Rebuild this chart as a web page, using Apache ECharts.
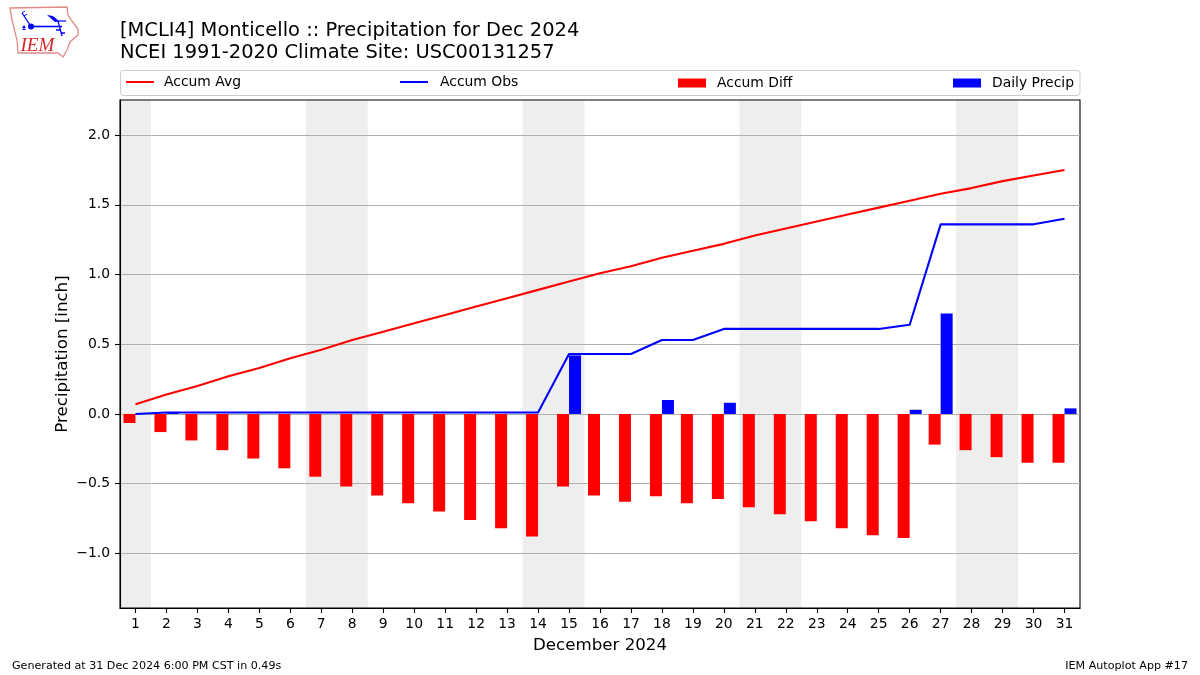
<!DOCTYPE html>
<html><head><meta charset="utf-8">
<style>html,body{margin:0;padding:0;background:#fff}#c{width:1200px;height:675px}</style>
<script src="https://cdn.jsdelivr.net/npm/echarts@6/dist/echarts.min.js"></script>
</head><body><div id="c"></div>
<script>
const days = ['1','2','3','4','5','6','7','8','9','10','11','12','13','14','15','16','17','18','19','20','21','22','23','24','25','26','27','28','29','30','31'];
const accumAvg = [0.07,0.14,0.20,0.27,0.33,0.40,0.46,0.53,0.59,0.65,0.71,0.77,0.83,0.89,0.95,1.01,1.06,1.12,1.17,1.22,1.28,1.33,1.38,1.43,1.48,1.53,1.58,1.62,1.67,1.71,1.75];
const accumObs = [0.00,0.01,0.01,0.01,0.01,0.01,0.01,0.01,0.01,0.01,0.01,0.01,0.01,0.01,0.43,0.43,0.43,0.53,0.53,0.61,0.61,0.61,0.61,0.61,0.61,0.64,1.36,1.36,1.36,1.36,1.40];
const accumDiff = [-0.065,-0.13,-0.19,-0.26,-0.32,-0.39,-0.45,-0.52,-0.585,-0.64,-0.70,-0.76,-0.82,-0.88,-0.52,-0.585,-0.63,-0.59,-0.64,-0.61,-0.67,-0.72,-0.77,-0.82,-0.87,-0.89,-0.22,-0.26,-0.31,-0.35,-0.35];
const dailyPrecip = [0,0.01,0,0,0,0,0,0,0,0,0,0,0,0,0.42,0,0,0.10,0,0.08,0,0,0,0,0,0.03,0.72,0,0,0,0.04];
const weekendSpans = [[1,1],[7,8],[14,15],[21,22],[28,29]];
const yTicks = [-1.0,-0.5,0.0,0.5,1.0,1.5,2.0];
const yMin = -1.392, yMax = 2.252;
const FONT = 'DejaVu Sans';
const legendNames = ['Accum Avg','Accum Obs','Accum Diff','Daily Precip'];
const legendLeft = [126,400,678,953];

const chart = echarts.init(document.getElementById('c'),null,{renderer:'canvas'});
const red='#ff0000', blue='#0000ff';
const poly=(pts,style)=>({type:'polyline',shape:{points:pts},style:Object.assign({fill:null},style),silent:true,z:2});
const tri=(pts)=>({type:'polygon',shape:{points:pts},style:{fill:blue},silent:true,z:2});
chart.setOption({
  animation:false,
  backgroundColor:'#fff',
  textStyle:{fontFamily:FONT},
  grid:{left:120,right:120,top:100,bottom:67,show:true,z:1,borderColor:'#000',borderWidth:1.1,backgroundColor:'transparent',containLabel:false},
  title:[
    {text:'[MCLI4] Monticello :: Precipitation for Dec 2024\nNCEI 1991-2020 Climate Site: USC00131257',left:120,top:19.5,padding:0,
     textStyle:{fontFamily:FONT,fontSize:19.45,fontWeight:'normal',color:'#000',lineHeight:22.5}},
    {text:'Generated at 31 Dec 2024 6:00 PM CST in 0.49s',left:12,top:661,padding:0,textStyle:{fontFamily:FONT,fontSize:11.12,fontWeight:'normal',color:'#000'}},
    {text:'IEM Autoplot App #17',right:12,top:661,padding:0,textStyle:{fontFamily:FONT,fontSize:11.12,fontWeight:'normal',color:'#000'}}
  ],
  legend:legendNames.map((n,i)=>({data:[n],left:legendLeft[i],top:i<2?75:76,padding:0,itemWidth:28,itemHeight:i<2?2:9,itemGap:0,icon:'rect',
    textStyle:{fontFamily:FONT,fontSize:13.9,color:'#000',padding:[0,0,0,[5,7,6,6][i]]},selectedMode:false,z:5})),
  xAxis:{type:'category',data:days,boundaryGap:true,name:'December 2024',nameLocation:'middle',nameGap:29,
    nameTextStyle:{fontFamily:FONT,fontSize:16.67,color:'#000'},
    axisLine:{show:true,onZero:false,lineStyle:{color:'#000',width:1.1}},
    axisTick:{show:true,interval:0,alignWithLabel:true,length:5,lineStyle:{color:'#000',width:1.1}},
    axisLabel:{interval:0,color:'#000',fontFamily:FONT,fontSize:13.9,margin:9.5},splitLine:{show:false},z:1},
  yAxis:{type:'value',min:yMin,max:yMax,
    name:'Precipitation [inch]',nameLocation:'middle',nameGap:48.5,nameRotate:90,nameMoveOverlap:false,
    nameTextStyle:{fontFamily:FONT,fontSize:16.67,color:'#000'},
    axisLine:{show:true,lineStyle:{color:'#000',width:1.1}},
    axisTick:{show:true,length:5,customValues:yTicks,lineStyle:{color:'#000',width:1.1}},
    axisLabel:{color:'#000',fontFamily:FONT,fontSize:13.9,margin:10,customValues:yTicks,formatter:v=>v.toFixed(1).replace('-','\u2212')},
    splitLine:{show:true,lineStyle:{color:'#b0b0b0',width:1.1}},z:1},
  series:[
    {type:'custom',name:'weekend',silent:true,z:0.5,clip:true,data:weekendSpans,coordinateSystem:'cartesian2d',encode:{x:0},
     renderItem:(p,api)=>{const s=weekendSpans[p.dataIndex];const w=api.size([1,0])[0];
       const a=api.coord([s[0]-1,yMax]);const b=api.coord([s[1]-1,yMin]);
       return {type:'rect',shape:{x:a[0]-w/2,y:a[1],width:b[0]-a[0]+w,height:b[1]-a[1]},style:{fill:'#eeeeee'}};}},
    {type:'bar',name:'Accum Diff',data:accumDiff,barWidth:12,barGap:0,itemStyle:{color:red},z:2},
    {type:'bar',name:'Daily Precip',data:dailyPrecip,barWidth:12,barGap:0,itemStyle:{color:blue},z:2},
    {type:'line',name:'Accum Avg',data:accumAvg,symbol:'none',lineStyle:{color:red,width:2.08},itemStyle:{color:red},z:3},
    {type:'line',name:'Accum Obs',data:accumObs,symbol:'none',lineStyle:{color:blue,width:2.08},itemStyle:{color:blue},z:3}
  ],
  graphic:[
    {type:'rect',shape:{x:120.5,y:70.5,width:959.5,height:25,r:3},style:{fill:'#fff',stroke:'#cccccc',lineWidth:1},silent:true,z:0},
    {type:'polygon',shape:{points:[[10,8],[67,7],[68,15],[72,21],[78,29],[78,35],[70,42],[67,50],[63,57],[58,53],[18,53],[17,40],[12,20]]},style:{fill:'#fff',stroke:'#e08a8a',lineWidth:1.3},silent:true,z:1},
    {type:'text',style:{text:'IEM',x:20.5,y:36,fill:'#d62728',font:'italic 19px "Liberation Serif"'},silent:true,z:2},
    poly([[31,26.5],[62,26.5]],{stroke:blue,lineWidth:1.6}),
    poly([[22,13],[31,26.5]],{stroke:blue,lineWidth:1.3}),
    poly([[22,13],[25,11]],{stroke:blue,lineWidth:1}),
    poly([[24,16],[27,14]],{stroke:blue,lineWidth:1}),
    tri([[47,15],[53,16],[59,21],[55,22]]),
    poly([[55,21],[66,21]],{stroke:blue,lineWidth:1.2}),
    poly([[58,21],[62,36]],{stroke:blue,lineWidth:1.3}),
    poly([[56,30],[60,30]],{stroke:blue,lineWidth:1.5}),
    poly([[61,33],[65,33]],{stroke:blue,lineWidth:1.5}),
    tri([[24,25],[26,28],[22,28]]),
    tri([[24,28],[26,30],[22,30]]),
    {type:'circle',shape:{cx:31,cy:26.5,r:3},style:{fill:blue},silent:true,z:2}
  ]
});
</script></body></html>
